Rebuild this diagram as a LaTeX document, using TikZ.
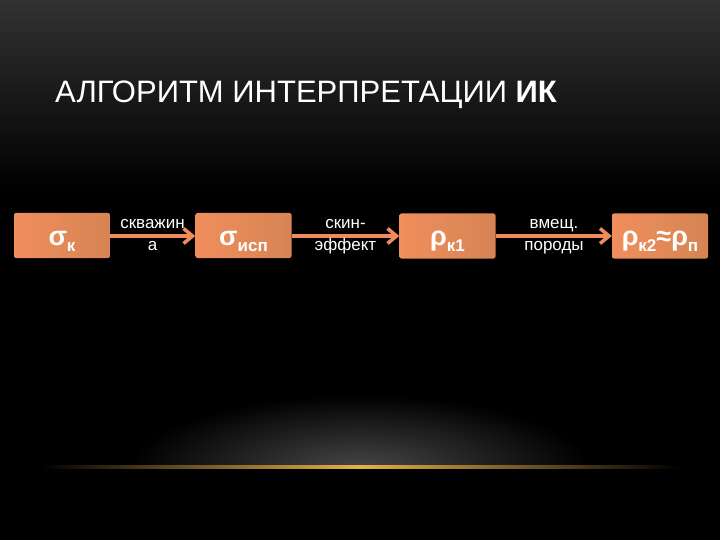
\documentclass[tikz,border=0pt]{standalone}
\usepackage{fontspec}
\setmainfont{Liberation Sans}
\usetikzlibrary{arrows.meta,shadings,calc}
\definecolor{boxL}{RGB}{240,142,92}
\definecolor{boxR}{RGB}{214,132,84}
\definecolor{arrc}{RGB}{238,140,92}
\definecolor{gold}{RGB}{232,176,70}
\definecolor{topgray}{RGB}{50,50,50}
\definecolor{glow}{RGB}{72,72,72}
\newcommand{\sbx}[1]{\raisebox{-6pt}{\fontsize{17}{17}\selectfont #1}}
\tikzset{
  stagebox/.style={rectangle, rounded corners=2pt, left color=boxL, right color=boxR,
    minimum width=96pt, minimum height=45pt, inner sep=0pt, text=white,
    text height=19pt, text depth=0pt,
    font=\fontsize{27}{27}\selectfont\bfseries},
  arr/.style={draw=arrc, line width=4pt, -{Straight Barb[length=9pt,width=15pt,line width=3.5pt]}},
  lbl/.style={text=white, align=center, font=\fontsize{17}{21}\selectfont, inner sep=0pt, anchor=base}
}
\begin{document}
\begin{tikzpicture}[x=1pt,y=-1pt]
\useasboundingbox (0,0) rectangle (720,540);
\fill[black] (0,0) rectangle (720,540);
\shade[top color=topgray, bottom color=black] (0,0) rectangle (720,190);
\begin{scope}
  \clip (0,380) rectangle (720,466);
  \shade[inner color=glow, outer color=black] (360,470) ellipse [x radius=230, y radius=75];
\end{scope}
\shade[left color=black, right color=black, middle color=gold] (40,465) rectangle (680,468);
\node[anchor=base west, text=white, font=\fontsize{31}{31}\selectfont, inner sep=0pt] (title) at (55,103) {АЛГОРИТМ ИНТЕРПРЕТАЦИИ \textbf{ИК}};
\node[stagebox] (b1) at (62,235.5) {σ\sbx{к}};
\node[stagebox] (b2) at (243.5,235.5) {σ\sbx{исп}};
\node[stagebox] (b3) at (447.5,236) {ρ\sbx{к1}};
\node[stagebox] (b4) at (660,236) {ρ\sbx{к2}≈ρ\sbx{п}};
\draw[arr] (b1.east |- 0,236) -- (b2.west |- 0,236);
\draw[arr] (b2.east |- 0,236) -- (b3.west |- 0,236);
\draw[arr] (b3.east |- 0,236) -- (b4.west |- 0,236);
\node[lbl] (l1) at (152.5,250) {скважин\\а};
\node[lbl] (l2) at (345.5,250) {скин-\\эффект};
\node[lbl] (l3) at (554,250) {вмещ.\\породы};
\end{tikzpicture}
\end{document}
